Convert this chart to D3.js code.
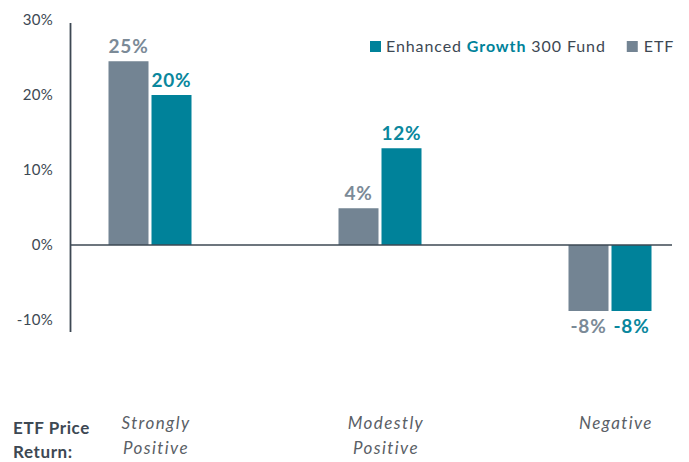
<!DOCTYPE html>
<html>
<head>
<meta charset="utf-8">
<script src="https://cdn.jsdelivr.net/npm/d3@7"></script>
<style>
  body { margin: 0; background: #fff; }
  svg { font-family: Lato, "Open Sans", sans-serif; }
</style>
</head>
<body>
<div id="chart"></div>
<script>
// Données
const categories = [["Strongly", "Positive"], ["Modestly", "Positive"], ["Negative"]];
const seriesNames = ["ETF", "Enhanced Growth 300 Fund"];
const etfValues = [24.5, 4.9, -8.8];
const fundValues = [20, 12.9, -8.8];
const etfLabels = ["25%", "4%", "-8%"];
const fundLabels = ["20%", "12%", "-8%"];
const yTicks = [30, 20, 10, 0, -10];

const width = 689, height = 462;
const colors = { ETF: "#738493", Fund: "#00829a" };
const labelColors = { ETF: "#7b8a97", Fund: "#0a879d" };
const dark = "#3d4853";

const svg = d3.select("#chart").append("svg")
    .attr("width", width)
    .attr("height", height);

// Échelles
const y = d3.scaleLinear().domain([-11.6, 29.6]).range([332, 23]);
const keys = categories.map(c => c.join(" "));
const x = d3.scalePoint().domain(keys).range([150, 610]);
const inner = d3.scaleBand().domain(["ETF", "Fund"]).range([-41.5, 41.5])
    .paddingInner(3 / 43).paddingOuter(0);

const rows = keys.map((k, i) => ({
    key: k,
    bars: [
        { s: "ETF", v: etfValues[i], label: etfLabels[i] },
        { s: "Fund", v: fundValues[i], label: fundLabels[i] }
    ]
}));

// Axe vertical
svg.append("line")
    .attr("x1", 70.5).attr("x2", 70.5)
    .attr("y1", y.range()[1]).attr("y2", y.range()[0])
    .attr("stroke", dark).attr("stroke-width", 1.8);

svg.append("g").selectAll("text")
    .data(yTicks)
    .join("text")
    .attr("x", 53)
    .attr("y", d => y(d))
    .attr("dy", "0.35em")
    .attr("text-anchor", "end")
    .style("font-size", "15px")
    .style("letter-spacing", "0.3px")
    .style("fill", dark)
    .text(d => d + "%");

// Barres
const groups = svg.append("g").selectAll("g")
    .data(rows)
    .join("g")
    .attr("transform", d => `translate(${x(d.key)},0)`);

groups.selectAll("rect")
    .data(d => d.bars)
    .join("rect")
    .attr("x", d => inner(d.s))
    .attr("width", inner.bandwidth())
    .attr("y", d => y(Math.max(0, d.v)))
    .attr("height", d => Math.abs(y(d.v) - y(0)))
    .attr("fill", d => colors[d.s]);

groups.selectAll("text")
    .data(d => d.bars)
    .join("text")
    .attr("x", d => inner(d.s) + inner.bandwidth() / 2)
    .attr("y", d => d.v >= 0 ? y(d.v) - 8 : y(d.v) + 22)
    .attr("text-anchor", "middle")
    .style("font-size", "19px")
    .style("font-weight", "bold")
    .style("letter-spacing", "0.8px")
    .style("fill", d => labelColors[d.s])
    .text(d => d.label);

// Ligne zéro
svg.append("line")
    .attr("x1", 70).attr("x2", 672)
    .attr("y1", y(0)).attr("y2", y(0))
    .attr("stroke", dark).attr("stroke-width", 1.6);

// Légende
const legend = svg.append("g");
legend.append("rect").attr("x", 370).attr("y", 41).attr("width", 11).attr("height", 11)
    .attr("fill", colors.Fund);
const lt = legend.append("text").attr("x", 386).attr("y", 52)
    .style("font-size", "16px").style("letter-spacing", "0.9px").style("fill", dark);
lt.append("tspan").text("Enhanced ");
lt.append("tspan").style("font-weight", "bold").style("fill", colors.Fund).text("Growth");
lt.append("tspan").text(" 300 Fund");
const lw = lt.node().getComputedTextLength();
const ex = 386 + lw + 21;
legend.append("rect").attr("x", ex).attr("y", 41).attr("width", 11).attr("height", 11)
    .attr("fill", colors.ETF);
legend.append("text").attr("x", ex + 17).attr("y", 52)
    .style("font-size", "16px").style("letter-spacing", "0.9px").style("fill", dark)
    .text(seriesNames[0]);

// Libellés des catégories
const cat = svg.append("g").selectAll("text")
    .data(categories.map((c, i) => ({ lines: c, key: keys[i] })))
    .join("text")
    .attr("text-anchor", "middle")
    .style("font-size", "17px")
    .style("font-style", "italic")
    .style("letter-spacing", "1.4px")
    .style("fill", "#5a6066");
cat.selectAll("tspan")
    .data(d => d.lines.map(l => ({ l, key: d.key })))
    .join("tspan")
    .attr("x", d => x(d.key) + 6)
    .attr("y", (d, i) => 429 + i * 25)
    .text(d => d.l);

const axTitle = svg.append("text")
    .style("font-size", "17px")
    .style("font-weight", "bold")
    .style("letter-spacing", "0.6px")
    .style("fill", dark);
axTitle.append("tspan").attr("x", 13).attr("y", 434).text("ETF Price");
axTitle.append("tspan").attr("x", 13).attr("y", 458).text("Return:");
</script>
</body>
</html>
